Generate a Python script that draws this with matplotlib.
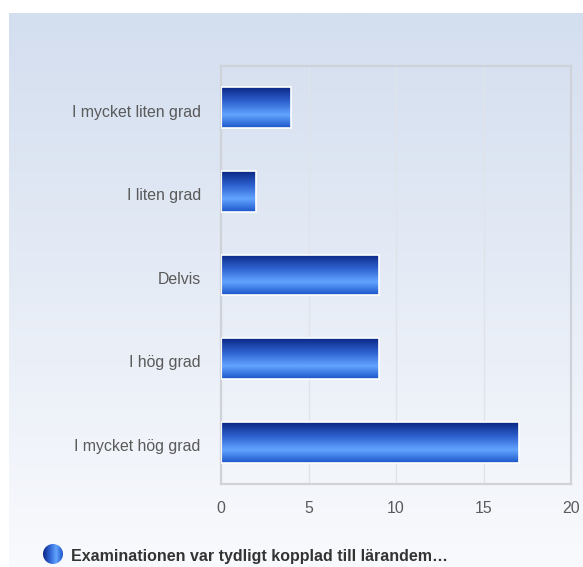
import numpy as np
import matplotlib.pyplot as plt
import matplotlib.transforms as mtransforms
from matplotlib.colors import LinearSegmentedColormap
from matplotlib.patches import Circle

categories = ["I mycket liten grad", "I liten grad", "Delvis", "I hög grad", "I mycket hög grad"]
values = [4, 2, 9, 9, 17]
legend_label = "Examinationen var tydligt kopplad till lärandem…"
xticks = [0, 5, 10, 15, 20]

plt.rcParams['font.family'] = ['Liberation Sans', 'DejaVu Sans']

W, H = 583, 567
fig = plt.figure(figsize=(W / 100, H / 100), dpi=100)
fig.patch.set_facecolor('white')

# background panel with vertical gradient
bg = fig.add_axes([9 / W, 0, 1 - 9 / W, 1 - 13 / H])
bg_cmap = LinearSegmentedColormap.from_list('bg', ['#d3deef', '#e6ecf6', '#f9fafd'])
bg.imshow(np.linspace(0, 1, 256).reshape(-1, 1), cmap=bg_cmap, aspect='auto',
          extent=(0, 1, 0, 1))
bg.set_axis_off()

ax = fig.add_axes([221 / W, 1 - 484 / H, (571 - 221) / W, (484 - 66) / H])
ax.patch.set_alpha(0)

bar_cmap = LinearSegmentedColormap.from_list(
    'bar', [(0, '#0b2784'), (0.35, '#2e62d0'), (0.68, '#62a4ff'), (1, '#1c55c8')])
grad = np.linspace(0, 1, 128).reshape(-1, 1)

y = np.arange(len(categories))
h = 0.49
bars = ax.barh(y, values, height=h, color='none', edgecolor='white', linewidth=1.2, zorder=3)
for b, v, yy in zip(bars, values, y):
    im = ax.imshow(grad, cmap=bar_cmap, aspect='auto',
                   extent=(0, v, yy + h / 2, yy - h / 2), zorder=2)
    im.set_clip_path(b)

ax.set_xlim(0, 20)
ax.set_ylim(len(categories) - 0.5, -0.5)
ax.set_xticks(xticks)
ax.set_yticks(y)
ax.set_yticklabels(categories)
ax.tick_params(length=0, labelsize=11.4, colors='#5a5a5a')
ax.tick_params(axis='x', pad=12)
ax.tick_params(axis='y', pad=14.5)
# nudge y labels slightly down
off = mtransforms.ScaledTranslation(0, -2 / 72, fig.dpi_scale_trans)
for lab in ax.get_yticklabels():
    lab.set_transform(lab.get_transform() + off)
ax.grid(axis='x', color='#dfe3ea', linewidth=1, zorder=0)
for s in ax.spines.values():
    s.set_color('#cfd2d8')
    s.set_linewidth(1.6)

# legend
leg = fig.add_axes([0, 0, 1, 1])
leg.set_xlim(0, W)
leg.set_ylim(H, 0)
leg.set_axis_off()
circ = Circle((53, 554), 10, facecolor='none', edgecolor='none')
leg.add_patch(circ)
cg = leg.imshow(np.linspace(0, 1, 64).reshape(1, -1),
                cmap=LinearSegmentedColormap.from_list('c', ['#0b2784', '#2e62d0', '#62a4ff', '#1c55c8']),
                aspect='auto', extent=(43, 63, 564, 544))
cg.set_clip_path(circ)
leg.set_xlim(0, W)
leg.set_ylim(H, 0)
leg.text(71, 556, legend_label, fontsize=11.5, fontweight='bold', color='#333333',
         va='center', ha='left')

fig.savefig('out.png', dpi=100)
